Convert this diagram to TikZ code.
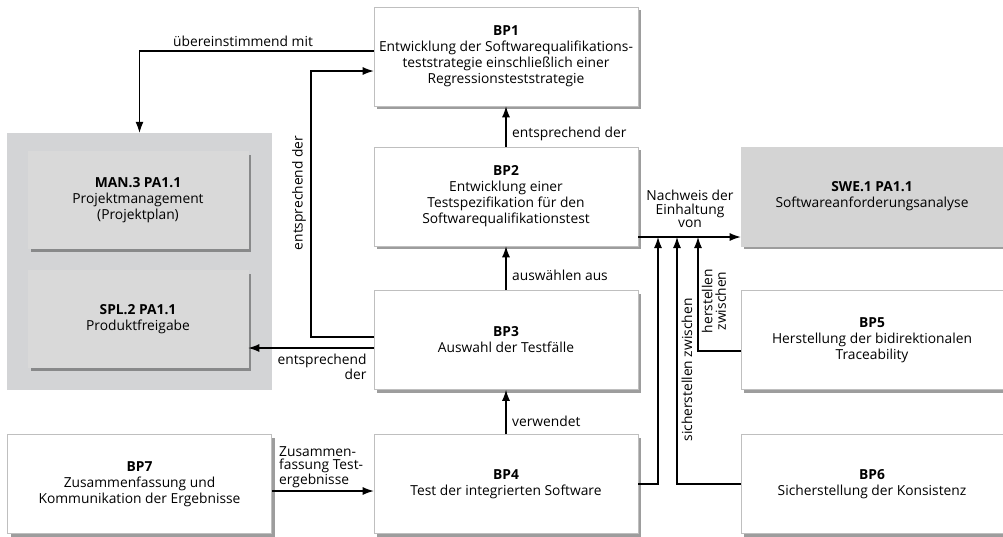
\documentclass[tikz,border=0pt]{standalone}
\usepackage{fontspec}
\setmainfont{Open Sans}
\usetikzlibrary{arrows.meta,shadows,positioning}
\definecolor{grpgray}{HTML}{D3D4D6}
\definecolor{boxgray}{HTML}{D9D9D9}
\definecolor{swegray}{HTML}{D4D4D4}
\begin{document}
\begin{tikzpicture}[x=1pt,y=-1pt,
  font=\fontsize{13.8}{16}\selectfont,
  bpbox/.style={draw=black!25, line width=0.6pt, fill=white, align=center,
    minimum width=264pt, minimum height=99pt, inner sep=0pt,
    execute at begin node={\rule{0pt}{16.5pt}},
    drop shadow={shadow xshift=3pt, shadow yshift=-3pt, fill=black!70, opacity=0.55}},
  greybox/.style={bpbox, fill=boxgray, draw=white!85!black, minimum width=220pt, minimum height=97pt},
  swebox/.style={bpbox, fill=swegray, draw=swegray},
  arr/.style={line width=1.1pt, -{Latex[length=11pt,width=8pt]}},
  lbl/.style={inner sep=1pt, font=\fontsize{13.8}{13.5}\selectfont}
]
\useasboundingbox (0,0) rectangle (1003,536);

% grey group for external process attributes
\node[fill=grpgray, minimum width=265pt, minimum height=257pt, inner sep=0pt] (grp) at (139.5,261.5) {};
\node[greybox] (man) at (138,200) {\textbf{MAN.3 PA1.1}\\Projektmanagement\\(Projektplan)};
\node[greybox] (spl) at (138,319) {\textbf{SPL.2 PA1.1}\\Produktfreigabe};

% base practices
\node[bpbox] (bp1) at (506,56.5) {\textbf{BP1}\\Entwicklung der Softwarequalifikations-\\teststrategie einschließlich einer\\Regressionsteststrategie};
\node[bpbox] (bp2) at (506,196.5) {\textbf{BP2}\\Entwicklung einer\\Testspezifikation für den\\Softwarequalifikationstest};
\node[bpbox] (bp3) at (506,340) {\textbf{BP3}\\Auswahl der Testfälle};
\node[bpbox] (bp4) at (506,484) {\textbf{BP4}\\Test der integrierten Software};
\node[bpbox] (bp7) at (139.5,484) {\textbf{BP7}\\Zusammenfassung und\\Kommunikation der Ergebnisse};
\node[swebox, minimum width=262pt] (swe) at (872,196.5) {\textbf{SWE.1 PA1.1}\\Softwareanforderungsanalyse};
\node[bpbox, minimum width=262pt] (bp5) at (872,340) {\textbf{BP5}\\Herstellung der bidirektionalen\\Traceability};
\node[bpbox, minimum width=262pt] (bp6) at (872,484) {\textbf{BP6}\\Sicherstellung der Konsistenz};

% routing points
\coordinate (c1) at (311,71);
\coordinate (p3l) at ([yshift=-8]bp3.west);
\coordinate (n2) at ([yshift=-40.5]bp2.east);
\coordinate (j1) at (658,237);
\coordinate (j2) at (677,237);
\coordinate (j3) at (698,237);

% connectors
\draw[arr] ([yshift=5.5]bp1.west) -| (grp.north);
\node[lbl] at (243,41) {übereinstimmend mit};

\draw[arr] ([yshift=3]bp3.west) -| (c1) -- ([yshift=-14.5]bp1.west);
\node[lbl, rotate=90] at (299,193) {entsprechend der};

\draw[arr] (p3l) -- (p3l -| spl.east);
\node[lbl, align=right] at (322,367) {entsprechend\\der};

\draw[arr] (bp2.north) -- (bp1.south);
\node[lbl, anchor=west] at (511,134) {entsprechend der};

\draw[arr] (bp3.north) -- (bp2.south);
\node[lbl, anchor=west] at (511,275) {auswählen aus};

\draw[arr] (bp4.north) -- (bp3.south);
\node[lbl, anchor=west] at (511,421) {verwendet};

\draw[arr] (n2) -- (n2 -| swe.west);
\node[lbl, align=center] at (690,209) {Nachweis der\\Einhaltung\\von};

\draw[arr] (bp4.east) -| (j1);
\draw[arr] (bp6.west) -| (j2);
\node[lbl, rotate=90] at (687,370) {sicherstellen zwischen};
\draw[arr] ([yshift=-11]bp5.west) -| (j3);
\node[lbl, rotate=90, align=center] at (714,301) {herstellen\\zwischen};

\draw[arr] ([yshift=-7]bp7.east) -- ([yshift=-7]bp4.west);
\node[lbl, align=left, anchor=west, font=\fontsize{13.8}{13}\selectfont] at (278,467) {Zusammen-\\fassung Test-\\ergebnisse};
\end{tikzpicture}
\end{document}
